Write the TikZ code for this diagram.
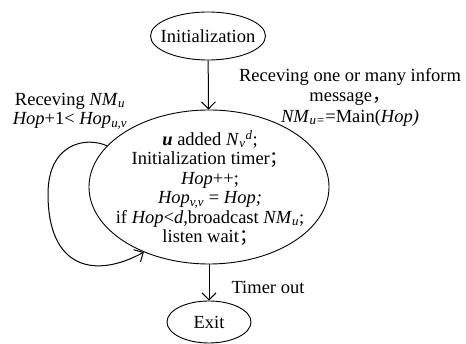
\documentclass[tikz,border=0pt]{standalone}
\usepackage{fontspec}
\setmainfont{Liberation Serif}
\newfontfamily\cjk{Noto Sans CJK SC}
\usetikzlibrary{shapes.geometric,arrows.meta}
\newcommand{\vsub}[1]{\textsubscript{\textit{#1}}}
\begin{document}
\begin{tikzpicture}[x=1pt,y=1pt,
  font=\fontsize{18.5}{19.5}\selectfont,
  state/.style={draw, ellipse, inner sep=0pt, line width=0.9pt},
  arr/.style={line width=1pt, -{Straight Barb[length=7pt,width=14pt]}},
  lbl/.style={align=center, inner sep=0pt}]
\useasboundingbox (0,0) rectangle (466,344);
\node[state, minimum width=115pt, minimum height=48pt] (init) at (208,308) {};
\node[lbl] (initt) at (init) {Initialization};
\node[state, minimum width=240pt, minimum height=154pt] (main) at (209,157) {};
\node[lbl] (body) at (210,156) {\textit{\textbf{u}} added \textit{N}\vsub{v}\textsuperscript{\textit{d}};\\
Initialization timer{\cjk ；}\\
\textit{Hop}++;\\
\textit{Hop}\vsub{v,v} = \textit{Hop;}\\
if \textit{Hop}<\textit{d},broadcast \textit{NM}\vsub{u};\\
listen wait{\cjk ；}};
\node[state, minimum width=84pt, minimum height=42pt] (exit) at (209,22) {};
\node[lbl] (exitt) at (exit) {Exit};
\draw[arr] (init) -- (main);
\draw[arr] (main) -- (exit);
\draw[arr] (main.158) .. controls (85,208) and (48,200) .. (48,150)
  .. controls (48,75) and (95,65) .. (main.225);
\node[lbl] (left) at (70,233) {Receving \textit{NM}\vsub{u}\\ \textit{Hop}+1< \textit{Hop}\vsub{u,v}};
\node[lbl, font=\fontsize{18.5}{20.5}\selectfont] (right) at (350,247) {Receving one or many inform\\ message{\cjk ，}\\ \textit{NM}\vsub{u=}=Main(\textit{Hop)}};
\node[lbl] (timer) at (268,57) {Timer out};
\end{tikzpicture}
\end{document}
